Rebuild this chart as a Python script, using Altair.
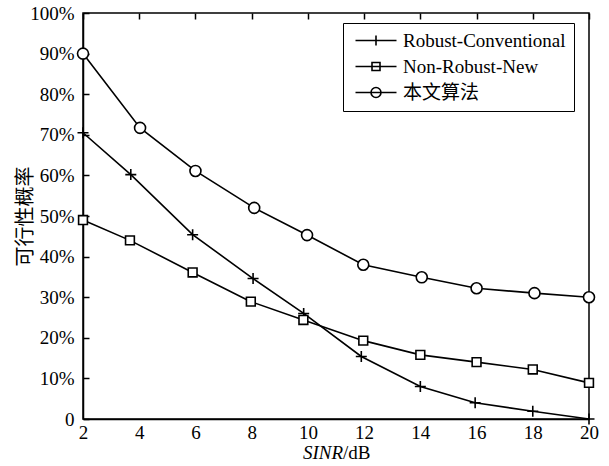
import altair as alt
import pandas as pd

series_names = ["Robust-Conventional", "Non-Robust-New", "本文算法"]

rc_x = [2, 3.7, 5.9, 8.05, 9.85, 11.9, 14.0, 15.95, 18.0, 20.0]
rc_y = [70.5, 60.2, 45.4, 34.6, 26.0, 15.4, 8.0, 4.0, 1.9, 0.0]

nr_x = [2, 3.67, 5.9, 7.97, 9.84, 11.97, 14.0, 16.0, 18.0, 20.0]
nr_y = [49.0, 44.0, 36.1, 28.9, 24.4, 19.3, 15.8, 14.0, 12.2, 8.9]

pa_x = [2, 4.03, 6.0, 8.09, 9.97, 11.97, 14.05, 16.0, 18.06, 20.0]
pa_y = [90.0, 71.7, 61.1, 52.0, 45.3, 38.0, 34.9, 32.2, 31.0, 30.0]

x_ticks = [2, 4, 6, 8, 10, 12, 14, 16, 18, 20]
y_ticks = [0, 10, 20, 30, 40, 50, 60, 70, 80, 90, 100]

frames = []
for name, xs, ys in [(series_names[0], rc_x, rc_y),
                     (series_names[1], nr_x, nr_y),
                     (series_names[2], pa_x, pa_y)]:
    frames.append(pd.DataFrame({"x": xs, "y": ys, "series": name}))
df = pd.concat(frames, ignore_index=True)

SERIF = "Liberation Serif, Noto Sans CJK SC"
W, H = 506, 406

x_enc = alt.X("x:Q",
              scale=alt.Scale(domain=[2, 20], nice=False, zero=False),
              axis=alt.Axis(values=x_ticks, format="d", title=None,
                            labelFont=SERIF, labelFontSize=19, labelColor="black",
                            labelPadding=4, ticks=False,
                            domainColor="black", domainWidth=1.5,
                            grid=True, gridColor="black", gridWidth=1.5,
                            gridDash=[6, 2000], gridOpacity=1,
                            labelFlush=False))
y_enc = alt.Y("y:Q",
              scale=alt.Scale(domain=[0, 100], nice=False),
              axis=alt.Axis(values=y_ticks,
                            labelExpr="datum.value == 0 ? '0' : datum.value + '%'",
                            title="可行性概率", titleFont="Noto Sans CJK SC",
                            titleFontSize=20, titleFontWeight="normal",
                            titleColor="black", titleX=-58, titleY=H / 2,
                            titleAlign="center", titleBaseline="middle",
                            labelFont=SERIF, labelFontSize=19, labelColor="black",
                            labelPadding=9, ticks=False,
                            domainColor="black", domainWidth=1.5,
                            grid=True, gridColor="black", gridWidth=1.5,
                            gridDash=[6, 2000], gridOpacity=1,
                            labelFlush=False))

base = alt.Chart(df)

lines = base.mark_line(color="black", strokeWidth=1.6).encode(
    x=x_enc, y=y_enc, detail="series:N", order="x:Q")

plus_path = "M-1,0H1M0,-1V1"
square_path = "M-0.8,-0.8H0.8V0.8H-0.8Z"

points = base.mark_point(filled=True, fill="white", stroke="black",
                         strokeWidth=1.6, size=121, opacity=1).encode(
    x=x_enc, y=y_enc,
    shape=alt.Shape("series:N",
                    scale=alt.Scale(domain=series_names,
                                    range=[plus_path, square_path, "circle"]),
                    legend=None))

leg_plus = "M-4.1,0H4.1M0,-1V1"
leg_square = "M-4.1,0H4.1M-0.8,-0.8H0.8V0.8H-0.8Z"
leg_circle = "M-4.1,0H4.1M1,0A1,1 0 1,1 -1,0A1,1 0 1,1 1,0"

legend_layer = base.transform_filter("false").mark_point(
    color="black", filled=False, strokeWidth=1.6).encode(
    x=x_enc, y=y_enc,
    shape=alt.Shape("series:N",
                    scale=alt.Scale(domain=series_names,
                                    range=[leg_plus, leg_square, leg_circle]),
                    legend=alt.Legend(title=None, orient="none",
                                      legendX=260, legendY=10,
                                      labelFont=SERIF, labelFontSize=19,
                                      labelColor="black", labelLimit=400,
                                      symbolSize=100, symbolStrokeWidth=1.6,
                                      symbolStrokeColor="black",
                                      symbolFillColor="transparent",
                                      symbolOpacity=1,
                                      symbolOffset=15.5, labelOffset=17.5,
                                      padding=8, rowPadding=6,
                                      strokeColor="black", fillColor="white",
                                      cornerRadius=0)))

title_df = pd.DataFrame({"k": [0]})
t1 = alt.Chart(title_df).mark_text(text="SINR", font=SERIF, fontSize=19,
                                   fontStyle="italic", align="right",
                                   baseline="alphabetic", color="black").encode(
    x=alt.value(260), y=alt.value(446))
t2 = alt.Chart(title_df).mark_text(text="/dB", font=SERIF, fontSize=19,
                                   align="left", baseline="alphabetic",
                                   color="black").encode(
    x=alt.value(260), y=alt.value(446))

chart = alt.layer(lines, points, legend_layer, t1, t2).resolve_scale(
    shape="independent").properties(
    width=W, height=H, autosize="none",
    padding={"left": 83, "top": 13, "right": 20, "bottom": 47},
    background="white",
).configure_view(stroke="black", strokeWidth=1.5)

chart.save("out.html", embed_options={"renderer": "svg", "actions": False})
